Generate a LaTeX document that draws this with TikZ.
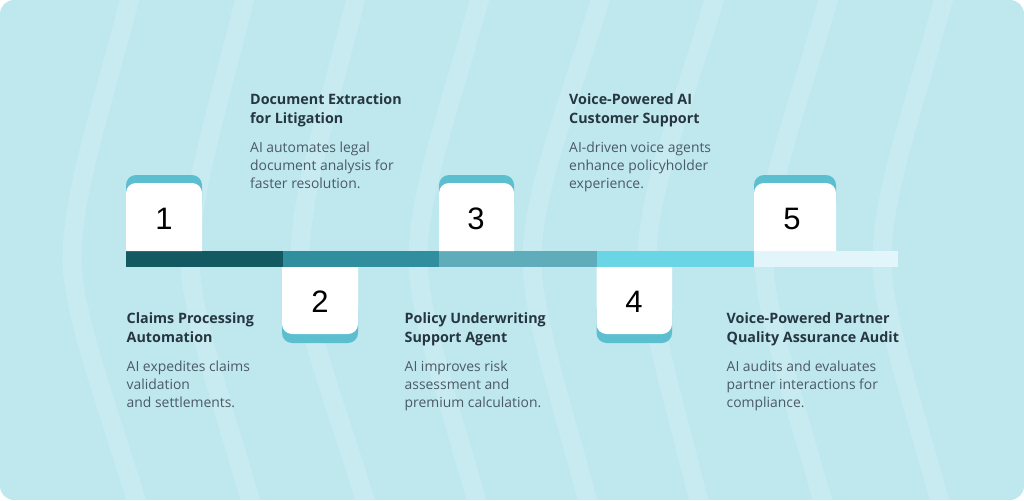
\documentclass[tikz,border=0pt]{standalone}
\usepackage{fontspec}
\setmainfont{Open Sans}
\newfontfamily\numfont{Liberation Sans}
\definecolor{bgc}{HTML}{BFE7EE}
\definecolor{stripec}{HTML}{C8EBF1}
\definecolor{tabc}{HTML}{5BBFD0}
\definecolor{headc}{HTML}{263640}
\definecolor{bodyc}{HTML}{4A5A66}
\definecolor{segA}{HTML}{135962}
\definecolor{segB}{HTML}{318E9F}
\definecolor{segC}{HTML}{5FADBB}
\definecolor{segD}{HTML}{6AD5E5}
\definecolor{segE}{HTML}{E2F5FA}
\tikzset{
  x=1pt,y=-1pt,
  stripe/.style={stripec,line width=19pt},
  head/.style={anchor=north west,inner sep=0pt,align=left,font=\fontsize{14.3}{19}\selectfont\bfseries,text=headc},
  body/.style={anchor=north west,inner sep=0pt,align=left,font=\fontsize{13.9}{17.8}\selectfont,text=bodyc},
  num/.style={inner sep=0pt,font=\numfont\fontsize{31}{31}\selectfont,text=black},
}
\begin{document}
\begin{tikzpicture}
\useasboundingbox (0,0) rectangle (1024,500);
\fill[white] (0,0) rectangle (1024,500);
\begin{scope}
\clip[rounded corners=14pt] (0,0) rectangle (1024,500);
\fill[bgc] (0,0) rectangle (1024,500);
\foreach \t/\m/\b in {130/72/137,245/190/251,356/300/366,480/418/477,601/532/588,715/647/699,829/764/823,944/882/940}{
  \draw[stripe] (\t+1,-6) .. controls ({\t-(\t-\m)*0.45},100) and ({\m+(\t-\m)*0.02},190) .. (\m,255) .. controls ({\m-(\t-\m)*0.02},310) and ({\m+(\b-\m)*0.52},400) .. (\b+1,506);
}
\end{scope}
% timeline
\fill[segA] (126,251) rectangle (283,267);
\fill[segB] (283,251) rectangle (439,267);
\fill[segC] (439,251) rectangle (597,267);
\fill[segD] (597,251) rectangle (754,267);
\fill[segE] (754,251) rectangle (898,267);
% up tabs
\foreach \l/\r in {126/202,439/514,754/836}{
  \fill[tabc,rounded corners=10pt] (\l,175) rectangle (\r,215);
  \fill[white,rounded corners=10pt] (\l,251) -- (\l,183) -- (\r,183) -- (\r,251);
  \fill[white] (\l,210) rectangle (\r,251);
}
% down tabs
\foreach \l/\r in {282/358,596.5/672}{
  \fill[tabc,rounded corners=10pt] (\l,300) rectangle (\r,343);
  \fill[white,rounded corners=10pt] (\l,267) -- (\l,334) -- (\r,334) -- (\r,267);
  \fill[white] (\l,267) rectangle (\r,300);
}
\node[num] (n1) at (164,219) {1};
\node[num] (n2) at (320,302) {2};
\node[num] (n3) at (476,219) {3};
\node[num] (n4) at (634,302) {4};
\node[num] (n5) at (792,219) {5};
\node[head] (h1) at (126.5,312) {Claims Processing\\Automation};
\node[body] (b1) at (126.5,361) {AI expedites claims\\validation\\and settlements.};
\node[head] (h2) at (250,93) {Document Extraction\\for Litigation};
\node[body] (b2) at (250,142) {AI automates legal\\document analysis for\\faster resolution.};
\node[head] (h3) at (404.5,312) {Policy Underwriting\\Support Agent};
\node[body] (b3) at (404.5,361) {AI improves risk\\assessment and\\premium calculation.};
\node[head] (h4) at (569,93) {Voice-Powered AI\\Customer Support};
\node[body] (b4) at (569,142) {AI-driven voice agents\\enhance policyholder\\experience.};
\node[head] (h5) at (726.5,312) {Voice-Powered Partner\\Quality Assurance Audit};
\node[body] (b5) at (726.5,361) {AI audits and evaluates\\partner interactions for\\compliance.};
\end{tikzpicture}
\end{document}
